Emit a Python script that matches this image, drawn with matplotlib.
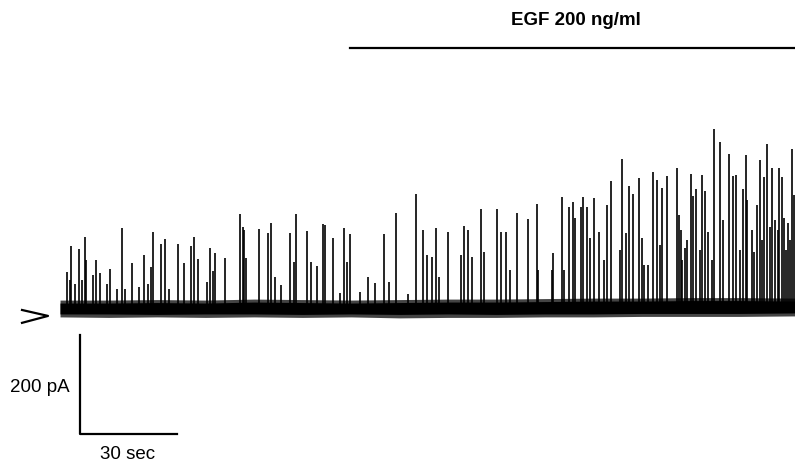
import matplotlib.pyplot as plt
import numpy as np

plt.rcParams['font.family'] = ['Liberation Sans', 'DejaVu Sans']

# spike times (sec) and peak amplitudes (pA)
spike_t = [2.2, 3.1, 3.4, 4.6, 5.9, 6.8, 7.7, 8.0, 10.2, 11.1, 12.4, 14.5, 15.5, 17.6,
           19.2, 20.1, 22.3, 24.4, 26.0, 27.2, 28.1, 28.8, 31.2, 32.5, 33.7, 36.5, 38.4,
           40.5, 41.4, 42.7, 45.4, 46.4, 47.3, 47.9, 51.0, 55.7, 56.6, 56.9, 57.5, 61.6,
           64.3, 65.3, 66.5, 68.4, 71.1, 72.4, 73.0, 76.4, 77.6, 79.5, 81.3, 82.0, 84.4,
           86.6, 87.8, 88.8, 89.7, 92.8, 95.3, 97.4, 100.2, 101.8, 103.9, 107.6, 110.1,
           112.3, 113.5, 115.1, 116.3, 117.2, 120.0, 124.0, 125.0, 126.2, 127.4, 130.2,
           131.1, 135.2, 136.4, 137.9, 139.2, 141.4, 144.8, 147.5, 147.8, 152.2, 152.5,
           155.3, 155.9, 157.4, 158.7, 159.3, 161.1, 161.8, 163.0, 163.9, 165.2, 166.7,
           168.3, 169.2, 170.4, 173.2, 173.8, 175.1, 176.0, 177.2, 179.1, 180.0, 180.6,
           181.9, 183.4, 184.7, 185.6, 186.2, 187.7, 190.8, 191.5, 192.1, 192.4, 193.3,
           194.0, 195.2, 195.8, 196.7, 197.9, 198.6, 199.5, 200.4, 201.7, 202.3, 204.1,
           205.1, 206.9, 208.2, 209.1, 210.4, 211.3, 212.2, 212.5, 214.1, 214.7, 215.6,
           216.5, 217.1, 217.7, 218.7, 219.6, 220.2, 221.2, 222.1, 222.4, 223.3, 223.9,
           224.6, 225.2, 225.8, 226.4, 227.0]
spike_a = [73, 57, 125, 48, 119, 57, 143, 97, 67, 97, 71, 48, 79, 38,
           162, 38, 91, 42, 107, 48, 83, 154, 129, 139, 38, 129, 91,
           125, 143, 99, 53, 121, 75, 111, 101, 190, 164, 158, 101, 160,
           152, 172, 63, 46, 152, 93, 190, 156, 93, 85, 170, 168, 141,
           30, 162, 93, 149, 32, 63, 51, 149, 53, 192, 28, 230,
           158, 107, 103, 162, 63, 154, 107, 166, 158, 103, 200,
           113, 200, 154, 154, 77, 192, 180, 210, 77, 77, 111,
           224, 77, 204, 214, 182, 204, 224, 204, 141, 222, 154,
           97, 208, 257, 117, 301, 152, 246, 230, 263, 141, 87,
           87, 275, 259, 127, 242, 267, 283, 188, 158, 97, 121,
           137, 271, 226, 240, 117, 269, 236, 154, 97, 362, 335,
           178, 311, 267, 269, 117, 240, 309, 218, 158, 113, 208,
           299, 137, 265, 331, 164, 283, 178, 158, 283, 265, 182,
           117, 172, 137, 321, 228]

# baseline noise envelope (pA): dense core and fuzzy outer edge
noise_t = [0, 15, 30, 45, 60, 75, 90, 105, 120, 135, 150, 165, 180, 195, 210, 227.3]
core_hi = [10, 10, 11, 10, 12, 11, 10, 11, 12, 12, 13, 14, 14, 15, 15, 14]
core_lo = [-12, -12, -13, -12, -12, -13, -12, -13, -12, -13, -12, -12, -11, -11, -11, -10]
edge_hi = [16, 16, 17, 16, 18, 17, 16, 17, 18, 18, 19, 20, 20, 21, 21, 20]
edge_lo = [-18, -19, -18, -19, -18, -19, -18, -20, -19, -19, -18, -18, -17, -17, -17, -16]

egf_start = 89.7
egf_label = 'EGF 200 ng/ml'

fig = plt.figure(figsize=(7.95, 4.62), dpi=100)
ax = fig.add_axes([0, 0, 1, 1])
ax.set_xlim(-18.56, 227.3)
ax.set_ylim(-311.1, 622.2)
ax.axis('off')

ax.fill_between(noise_t, edge_lo, edge_hi, color='#444444', linewidth=0)
ax.fill_between(noise_t, core_lo, core_hi, color='black', linewidth=0)
ax.vlines(spike_t, 0, spike_a, color='black', linewidth=1.2)

# EGF application bar
ax.plot([egf_start, 227.3], [525, 525], color='black', linewidth=1.6)
ax.text(159.5, 581, egf_label, ha='center', va='center', fontsize=13.5, fontweight='bold')

# arrow marking zero current
ax.plot([-11.75, -3.71, -11.75], [-4, -16, -30], color='black', linewidth=1.6)

# scale bars
ax.plot([6.19, 6.19, 36.19], [-54.5, -254.5, -254.5], color='black', linewidth=1.6)
ax.text(3.1, -161.6, '200 pA', ha='right', va='center', fontsize=13.5)
ax.text(21.0, -296, '30 sec', ha='center', va='center', fontsize=13.5)

fig.savefig('out.png', dpi=100)
